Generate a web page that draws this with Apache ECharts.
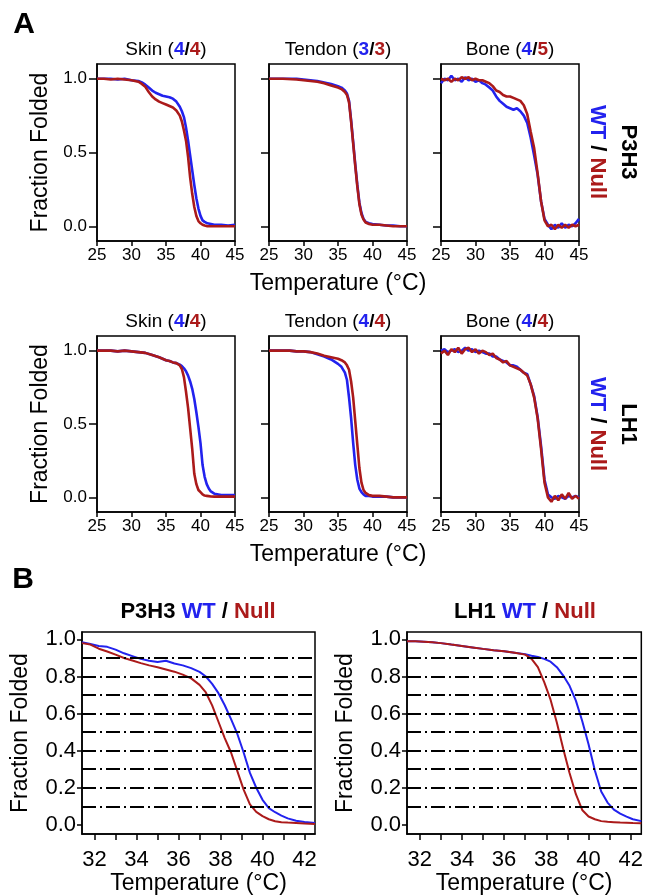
<!DOCTYPE html>
<html>
<head>
<meta charset="utf-8">
<script src="https://cdn.jsdelivr.net/npm/echarts@6/dist/echarts.min.js"></script>
<style>
  html, body { margin: 0; padding: 0; background: #fff; }
  #chart { width: 646px; height: 896px; }
</style>
</head>
<body>
<div id="chart"></div>
<script>
// ---- panel A, P3H3 row ----
var p3SkinT    = [25,26,27,28,29,30,31,31.5,32,32.5,33,33.5,34,34.5,35,35.5,36,36.5,37,37.3,37.6,37.9,38.2,38.5,38.8,39.1,39.4,39.7,40,40.3,40.6,41,41.5,42,43,44,45];
var p3SkinWT   = [1,1,1,0.995,1,0.99,0.985,0.975,0.96,0.94,0.92,0.905,0.895,0.885,0.88,0.875,0.865,0.845,0.81,0.78,0.74,0.67,0.58,0.48,0.38,0.28,0.19,0.12,0.07,0.04,0.03,0.02,0.015,0.01,0.01,0.005,0.01];
var p3SkinNull = [1,1,0.995,1,0.995,0.99,0.98,0.965,0.945,0.91,0.88,0.86,0.845,0.835,0.825,0.815,0.805,0.785,0.75,0.71,0.65,0.58,0.47,0.33,0.22,0.13,0.07,0.035,0.02,0.01,0.005,0,0,0,0,0,0];

var p3TendonT    = [25,27,29,30,31,32,33,34,35,35.5,36,36.3,36.6,36.9,37.2,37.5,37.8,38.1,38.4,38.7,39,39.5,40,41,42,43,44,45];
var p3TendonWT   = [1,1,1,0.995,0.99,0.985,0.975,0.965,0.95,0.94,0.92,0.9,0.85,0.72,0.57,0.42,0.28,0.16,0.09,0.05,0.03,0.02,0.015,0.01,0.005,0.005,0,0];
var p3TendonNull = [1,1,0.995,0.99,0.985,0.98,0.97,0.955,0.94,0.93,0.91,0.89,0.84,0.71,0.56,0.41,0.27,0.15,0.08,0.045,0.025,0.015,0.01,0.01,0.005,0,0,0];

var boneT = [25,25.5,26,26.5,27,27.5,28,28.5,29,29.5,30,30.5,31,31.5,32,32.5,33,33.5,34,34.5,35,35.5,36,36.5,37,37.5,38,38.5,39,39.5,40,40.5,41,41.5,42,42.5,43,43.5,44,44.5,45];
var p3BoneWT   = [0.97,1,0.99,1.02,0.99,1,0.98,1.01,0.99,1,0.98,0.99,0.97,0.96,0.94,0.92,0.88,0.85,0.83,0.81,0.8,0.79,0.8,0.78,0.75,0.7,0.6,0.48,0.35,0.17,0.05,0.01,-0.02,0.01,-0.01,0.02,-0.01,0.01,0,0.02,0.05];
var p3BoneNull = [1,0.99,1,0.98,1,0.99,1.01,1,1.01,0.99,1,0.99,0.99,0.98,0.97,0.95,0.92,0.91,0.89,0.88,0.88,0.87,0.86,0.85,0.82,0.76,0.64,0.53,0.36,0.17,0.04,0,0.01,-0.02,0.01,-0.01,0.01,-0.01,0.01,0,0.01];

// ---- panel A, LH1 row ----
var lhSkinT    = [25,26,27,28,29,30,31,32,33,34,34.5,35,35.5,36,36.5,37,37.3,37.6,37.9,38.2,38.5,38.8,39.1,39.4,39.7,40,40.3,40.6,40.9,41.2,41.5,42,43,44,45];
var lhSkinWT   = [1,1,1,0.995,1,0.995,0.99,0.985,0.97,0.955,0.945,0.935,0.93,0.92,0.915,0.905,0.895,0.88,0.86,0.83,0.79,0.74,0.67,0.58,0.48,0.37,0.22,0.14,0.09,0.06,0.04,0.025,0.015,0.015,0.015];
var lhSkinNull = [1,1,1,0.995,1,0.995,0.99,0.985,0.97,0.955,0.945,0.935,0.93,0.92,0.915,0.9,0.875,0.82,0.72,0.61,0.47,0.33,0.16,0.09,0.05,0.035,0.02,0.012,0.01,0.008,0.006,0.005,0.005,0.005,0.005];

var lhTendonT    = [25,26,27,28,29,30,31,32,33,34,34.5,35,35.5,36,36.3,36.6,36.9,37.2,37.5,37.8,38.1,38.4,38.7,39,39.5,40,41,42,43,44,45];
var lhTendonWT   = [1,1,1,1,0.995,0.995,0.99,0.975,0.96,0.94,0.925,0.91,0.89,0.85,0.8,0.68,0.54,0.37,0.22,0.12,0.06,0.035,0.02,0.01,0.01,0.005,0.005,0.005,0,0,0];
var lhTendonNull = [1,1,1,1,0.995,0.995,0.99,0.98,0.965,0.955,0.95,0.945,0.935,0.92,0.9,0.87,0.79,0.68,0.52,0.36,0.2,0.1,0.05,0.03,0.015,0.01,0.01,0.005,0,0,0];

var lhBoneWT   = [1,1.01,0.99,1,1.01,0.99,1,1.02,1,1.01,0.99,1,0.99,0.98,0.98,0.96,0.96,0.94,0.93,0.92,0.9,0.9,0.89,0.87,0.85,0.84,0.77,0.69,0.55,0.35,0.12,0.02,0,-0.01,0.01,0,-0.01,0.01,0,0.01,0];
var lhBoneNull = [0.98,1,0.97,1.01,0.99,1.02,0.98,1.01,1.02,0.99,1.01,0.98,1,0.99,0.97,0.98,0.95,0.94,0.92,0.93,0.9,0.89,0.88,0.87,0.85,0.83,0.77,0.68,0.54,0.33,0.1,0,-0.03,0.01,-0.02,0.02,-0.01,0.03,-0.01,0.01,-0.01];

// ---- panel B ----
var bP3T    = [31.4,31.8,32.2,32.6,33,33.4,33.8,34.2,34.6,35,35.4,35.8,36.2,36.6,37,37.3,37.6,37.9,38.2,38.5,38.8,39.1,39.4,39.7,40,40.3,40.6,40.9,41.2,41.6,42,42.5];
var bP3WT   = [0.985,0.975,0.965,0.96,0.945,0.925,0.91,0.895,0.885,0.878,0.885,0.87,0.86,0.845,0.825,0.8,0.76,0.71,0.645,0.57,0.49,0.39,0.28,0.2,0.135,0.09,0.068,0.05,0.035,0.022,0.015,0.01];
var bP3Null = [0.98,0.972,0.95,0.935,0.918,0.9,0.886,0.872,0.86,0.85,0.838,0.826,0.81,0.79,0.755,0.714,0.644,0.556,0.468,0.39,0.29,0.19,0.11,0.07,0.047,0.03,0.019,0.014,0.012,0.01,0.007,0.004];

var bLhT    = [31.4,31.8,32.2,32.6,33,33.5,34,34.5,35,35.5,36,36.5,37,37.3,37.6,37.9,38.2,38.5,38.8,39.1,39.4,39.7,40,40.3,40.6,40.9,41.2,41.5,41.8,42.1,42.5];
var bLhWT   = [0.99,0.99,0.988,0.985,0.98,0.972,0.965,0.957,0.949,0.942,0.936,0.928,0.92,0.912,0.905,0.895,0.88,0.85,0.805,0.75,0.67,0.56,0.435,0.293,0.18,0.12,0.082,0.06,0.044,0.03,0.02];
var bLhNull = [0.99,0.99,0.988,0.985,0.98,0.972,0.965,0.957,0.949,0.942,0.936,0.928,0.918,0.895,0.85,0.77,0.675,0.55,0.41,0.28,0.165,0.08,0.045,0.03,0.02,0.016,0.014,0.012,0.011,0.01,0.009];

// ticks / guides
var aXTicks = [25, 30, 35, 40, 45];
var aYTicks = [0, 0.5, 1.0];
var bXTicks = [32, 33, 34, 35, 36, 37, 38, 39, 40, 41, 42];
var bXLabels = [32, 34, 36, 38, 40, 42];
var bYTicks = [0, 0.2, 0.4, 0.6, 0.8, 1.0];
var guideLevels = [0.1, 0.2, 0.3, 0.4, 0.5, 0.6, 0.7, 0.8, 0.9];

var FONT = "'Liberation Sans', Arial, sans-serif";
var BLUE = '#2222ee';
var RED = '#ab1a1a';

function pairs(t, v) {
  var out = [];
  for (var i = 0; i < t.length; i++) out.push([t[i], v[i]]);
  return out;
}

var panels = [
  // panel A
  {t: p3SkinT, wt: p3SkinWT, nul: p3SkinNull, box: [97, 64, 138, 177], kind: 'A', yName: true},
  {t: p3TendonT, wt: p3TendonWT, nul: p3TendonNull, box: [269, 64, 138, 177], kind: 'A', xName: true},
  {t: boneT, wt: p3BoneWT, nul: p3BoneNull, box: [441, 64, 138, 177], kind: 'A'},
  {t: lhSkinT, wt: lhSkinWT, nul: lhSkinNull, box: [97, 336, 138, 176], kind: 'A', yName: true},
  {t: lhTendonT, wt: lhTendonWT, nul: lhTendonNull, box: [269, 336, 138, 176], kind: 'A', xName: true},
  {t: boneT, wt: lhBoneWT, nul: lhBoneNull, box: [441, 336, 138, 176], kind: 'A'},
  // panel B
  {t: bP3T, wt: bP3WT, nul: bP3Null, box: [82, 632, 233, 206], kind: 'B', yName: true, xName: true},
  {t: bLhT, wt: bLhWT, nul: bLhNull, box: [407, 632, 236, 206], kind: 'B', yName: true, xName: true}
];

var grids = [], xAxes = [], yAxes = [], series = [];
var black = {color: '#000', width: 1.5};

panels.forEach(function (p, i) {
  var A = p.kind === 'A';
  grids.push({left: p.box[0], top: p.box[1], width: p.box[2], height: p.box[3],
    show: true, borderColor: '#000', borderWidth: 1.5, backgroundColor: 'transparent'});
  xAxes.push({
    gridIndex: i, type: 'value',
    min: A ? 25 : 31.4, max: A ? 45 : 42.5,
    axisLine: {onZero: false, lineStyle: black},
    axisTick: {length: A ? 5 : 6, lineStyle: black, customValues: A ? aXTicks : bXTicks},
    axisLabel: {margin: A ? 6 : 15, fontSize: A ? 17 : 22, color: '#000', fontFamily: FONT,
      customValues: A ? aXTicks : bXLabels},
    splitLine: {show: false},
    name: p.xName ? 'Temperature (°C)' : '',
    nameLocation: 'middle', nameGap: A ? 31 : 36,
    nameTextStyle: {fontSize: 23, color: '#000', fontFamily: FONT}
  });
  yAxes.push({
    gridIndex: i, type: 'value',
    min: A ? -0.1 : -0.05, max: A ? 1.1 : 1.04,
    axisLine: {onZero: false, lineStyle: black},
    axisTick: {length: A ? 8 : 5, lineStyle: black, customValues: A ? aYTicks : bYTicks},
    axisLabel: {show: !!p.yName, margin: A ? 10 : 6, fontSize: A ? 17 : 22, color: '#000',
      fontFamily: FONT, customValues: A ? aYTicks : bYTicks,
      formatter: function (v) { return v.toFixed(1); }},
    splitLine: {show: false},
    name: p.yName ? 'Fraction Folded' : '',
    nameLocation: 'middle', nameGap: A ? 45 : 50,
    nameTextStyle: {fontSize: 23, color: '#000', fontFamily: FONT}
  });
  var wtSeries = {
    type: 'line', xAxisIndex: i, yAxisIndex: i, data: pairs(p.t, p.wt),
    showSymbol: false, symbol: 'none',
    lineStyle: {color: BLUE, width: A ? 2.6 : 2}, itemStyle: {color: BLUE}
  };
  var nullSeries = {
    type: 'line', xAxisIndex: i, yAxisIndex: i, data: pairs(p.t, p.nul),
    showSymbol: false, symbol: 'none',
    lineStyle: {color: RED, width: A ? 2.6 : 2}, itemStyle: {color: RED}
  };
  if (!A) {
    nullSeries.markLine = {
      silent: true, symbol: 'none', label: {show: false},
      lineStyle: {color: '#000', width: 1.8, type: [14, 4, 2, 4]},
      data: guideLevels.map(function (v) { return {yAxis: v}; })
    };
  }
  series.push(wtSeries, nullSeries);
});

var rich = {
  n: {fontSize: 19, fontFamily: FONT, fill: '#000', color: '#000'},
  s: {fontSize: 19, fontFamily: FONT, fill: '#000', color: '#000', fontWeight: 'bold'},
  b: {fontSize: 19, fontFamily: FONT, fill: BLUE, color: BLUE, fontWeight: 'bold'},
  r: {fontSize: 19, fontFamily: FONT, fill: RED, color: RED, fontWeight: 'bold'}
};
var richBold = {
  k: {fontSize: 22, fontFamily: FONT, fill: '#000', color: '#000', fontWeight: 'bold'},
  b: {fontSize: 22, fontFamily: FONT, fill: BLUE, color: BLUE, fontWeight: 'bold'},
  r: {fontSize: 22, fontFamily: FONT, fill: RED, color: RED, fontWeight: 'bold'}
};

function label(x, y, text, r, rot) {
  return {type: 'text', x: x, y: y, rotation: rot || 0,
    style: {text: text, rich: r, textAlign: 'center', textVerticalAlign: 'middle',
      align: 'center', verticalAlign: 'middle'}};
}

var graphics = [
  label(24, 25, '{k|A}', {k: {fontSize: 30, fontFamily: FONT, fill: '#000', fontWeight: 'bold'}}),
  label(23, 580, '{k|B}', {k: {fontSize: 30, fontFamily: FONT, fill: '#000', fontWeight: 'bold'}}),
  label(166, 50, '{n|Skin (}{b|4}{s|/}{r|4}{n|)}', rich),
  label(338, 50, '{n|Tendon (}{b|3}{s|/}{r|3}{n|)}', rich),
  label(510, 50, '{n|Bone (}{b|4}{s|/}{r|5}{n|)}', rich),
  label(166, 322, '{n|Skin (}{b|4}{s|/}{r|4}{n|)}', rich),
  label(338, 322, '{n|Tendon (}{b|4}{s|/}{r|4}{n|)}', rich),
  label(510, 322, '{n|Bone (}{b|4}{s|/}{r|4}{n|)}', rich),
  label(597, 152, '{b|WT}{k| / }{r|Null}', richBold, -Math.PI / 2),
  label(628, 152, '{k|P3H3}', richBold, -Math.PI / 2),
  label(597, 424, '{b|WT}{k| / }{r|Null}', richBold, -Math.PI / 2),
  label(628, 424, '{k|LH1}', richBold, -Math.PI / 2),
  label(198, 612, '{k|P3H3 }{b|WT}{k| / }{r|Null}', richBold),
  label(525, 612, '{k|LH1 }{b|WT}{k| / }{r|Null}', richBold)
];

var chart = echarts.init(document.getElementById('chart'), null, {renderer: 'canvas'});
chart.setOption({
  animation: false,
  backgroundColor: '#fff',
  grid: grids,
  xAxis: xAxes,
  yAxis: yAxes,
  series: series,
  graphic: graphics
});
</script>
</body>
</html>
